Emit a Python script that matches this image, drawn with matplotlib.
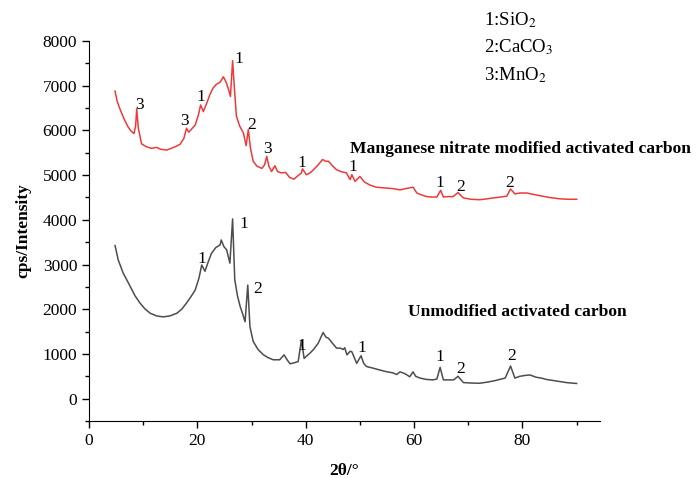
import numpy as np
import matplotlib
matplotlib.use("Agg")
import matplotlib.pyplot as plt

plt.rcParams["font.family"] = ["Liberation Serif", "DejaVu Serif"]
plt.rcParams["mathtext.fontset"] = "stix"

# Manganese nitrate modified activated carbon (red trace)
mod_x = [4.8, 5.2, 5.8, 6.5, 7.2, 7.8, 8.3, 8.6, 8.8, 9.1, 9.7, 10.5, 11.5, 12.5, 13.2, 14.3, 15.2, 16.0,
         16.8, 17.5, 18.0, 18.4, 19.0, 19.6, 20.2, 20.6, 21.1, 21.7, 22.3, 22.9, 23.5, 24.2, 24.8, 25.3,
         25.8, 26.1, 26.5, 26.8, 27.2, 27.8, 28.5, 29.0, 29.4, 29.8, 30.3, 31.0, 31.9, 32.4, 32.8, 33.2,
         33.7, 34.3, 34.8, 35.5, 36.3, 37.0, 37.8, 38.5, 39.2, 39.4, 40.1, 40.8, 41.5, 42.3, 43.1, 43.7,
         44.2, 45.0, 45.7, 46.5, 47.5, 48.2, 48.5, 49.1, 50.0, 50.8, 51.8, 53.0, 54.9, 56.0, 57.4, 58.5,
         59.8, 60.5, 61.3, 62.3, 63.3, 64.2, 64.9, 65.4, 66.3, 67.2, 68.1, 69.1, 70.5, 72.1, 73.5, 74.6,
         76.0, 77.1, 77.8, 78.6, 79.5, 80.8, 82.0, 83.2, 85.0, 86.9, 88.5, 90.0]
mod_y = [6880, 6650, 6450, 6250, 6080, 5980, 5930, 6100, 6480, 6050, 5700, 5640, 5600, 5620, 5580, 5560, 5600, 5640,
         5690, 5820, 6050, 5960, 6040, 6120, 6350, 6570, 6420, 6600, 6800, 6950, 7030, 7080, 7200, 7080,
         6900, 6760, 7560, 7000, 6320, 6100, 5940, 5660, 6020, 5600, 5310, 5200, 5150, 5230, 5420, 5200,
         5080, 5210, 5080, 5050, 5060, 4950, 4910, 4980, 5050, 5140, 5010, 5050, 5130, 5230, 5350, 5310,
         5310, 5200, 5120, 5080, 5050, 4900, 5010, 4860, 4970, 4850, 4780, 4730, 4710, 4700, 4670, 4700,
         4730, 4600, 4560, 4520, 4510, 4510, 4660, 4510, 4520, 4520, 4610, 4490, 4460, 4450, 4470, 4490,
         4510, 4530, 4690, 4580, 4600, 4600, 4570, 4540, 4500, 4470, 4460, 4460]

# Unmodified activated carbon (grey trace)
raw_x = [4.8, 5.4, 6.3, 7.0, 7.6, 8.5, 9.4, 10.3, 11.3, 12.5, 13.7, 14.9, 16.2, 17.1, 18.0, 18.8, 19.6, 20.3,
         20.8, 21.4, 22.0, 22.6, 23.4, 24.2, 24.4, 24.9, 25.4, 26.0, 26.5, 26.9, 27.4, 27.9, 28.4, 28.8,
         29.3, 29.7, 30.3, 31.2, 32.2, 33.0, 34.0, 35.2, 36.0, 36.5, 37.1, 37.8, 38.6, 39.2, 39.7, 40.2,
         40.8, 41.5, 42.3, 43.2, 43.7, 44.2, 45.0, 45.7, 46.4, 46.9, 47.2, 47.6, 48.2, 48.5, 49.4, 50.2,
         50.7, 51.2, 52.5, 53.7, 55.0, 56.0, 56.8, 57.4, 58.3, 59.2, 59.8, 60.3, 61.1, 62.3, 63.5, 64.2,
         64.8, 65.4, 66.3, 67.3, 68.1, 69.1, 70.5, 72.1, 73.5, 74.8, 75.8, 76.8, 77.8, 78.6, 79.5, 80.5,
         81.4, 82.5, 83.5, 84.4, 86.0, 88.1, 89.0, 90.0]
raw_y = [3425, 3100, 2810, 2650, 2510, 2300, 2140, 2010, 1910, 1850, 1830, 1850, 1910, 2000, 2140, 2280, 2430, 2700,
         2990, 2850, 3060, 3250, 3380, 3440, 3550, 3400, 3330, 3030, 4020, 2660, 2300, 2060, 1880, 1720,
         2540, 1610, 1280, 1100, 980, 920, 870, 870, 980, 880, 780, 800, 830, 1310, 900, 960,
         1020, 1110, 1240, 1480, 1380, 1350, 1230, 1130, 1130, 1100, 1140, 980, 1060, 1050, 790, 960,
         790, 720, 680, 640, 600, 580, 540, 600, 560, 490, 600, 500, 460, 430, 420, 440,
         700, 420, 420, 420, 500, 360, 350, 345, 370, 400, 430, 460, 730, 460, 500, 520,
         530, 480, 460, 430, 400, 360, 350, 340]

# peak markers: (2theta, label position in counts, text)
mod_tags_x = [9.4, 17.7, 20.7, 27.6, 30.1, 33.0, 39.3, 48.7, 64.8, 68.5, 77.7]
mod_tags_y = [6570, 6210, 6750, 7600, 6130, 5590, 5275, 5185, 4825, 4735, 4825]
mod_tags = ["3", "3", "1", "1", "2", "3", "1", "1", "1", "2", "2"]
raw_tags_x = [20.8, 28.6, 31.2, 39.3, 50.4, 64.8, 68.5, 78.0]
raw_tags_y = [3125, 3908, 2453, 1178, 1133, 932, 663, 954]
raw_tags = ["1", "1", "2", "1", "1", "1", "2", "2"]

phases = ["1:SiO$_2$", "2:CaCO$_3$", "3:MnO$_2$"]

fig = plt.figure(figsize=(6.96, 4.78), dpi=100)
ax = fig.add_axes([0.1279, 0.1192, 0.862 - 0.1279, 0.9142 - 0.1192])

ax.plot(mod_x, mod_y, color="#ee3a3a", lw=1.1)
ax.plot(raw_x, raw_y, color="#4d4d4d", lw=1.1)

for x, y, s in zip(mod_tags_x, mod_tags_y, mod_tags):
    ax.text(x, y, s, ha="center", va="center", fontsize=12.5)
for x, y, s in zip(raw_tags_x, raw_tags_y, raw_tags):
    ax.text(x, y, s, ha="center", va="center", fontsize=12.5)

ax.text(48.2, 5587, "Manganese nitrate modified activated carbon", fontsize=12.6,
        fontweight="bold", va="center", ha="left", clip_on=False)
ax.text(58.9, 1948, "Unmodified activated carbon", fontsize=12.6,
        fontweight="bold", va="center", ha="left")

for i, s in enumerate(phases):
    fig.text(484 / 696, 1 - (20 + 27.5 * i) / 478, s, fontsize=13.5, va="center", ha="left")

ax.set_xlim(0, 94.3)
ax.set_ylim(-500, 8000)
ax.set_xticks([0, 20, 40, 60, 80])
ax.set_xticks(np.arange(10, 95, 20), minor=True)
ax.set_yticks(np.arange(0, 8001, 1000))
ax.set_yticks(np.arange(-500, 8000, 1000), minor=True)
ax.spines["top"].set_visible(False)
ax.spines["right"].set_visible(False)
ax.tick_params(which="major", direction="out", length=5, width=1, labelsize=12.5)
ax.tick_params(which="minor", direction="out", length=3, width=1)

ax.set_xlabel("2θ/°", fontsize=12.5, fontweight="bold", labelpad=10)
ax.set_ylabel("cps/Intensity", fontsize=12.5, fontweight="bold", labelpad=8)

fig.savefig("out.png", dpi=100)
